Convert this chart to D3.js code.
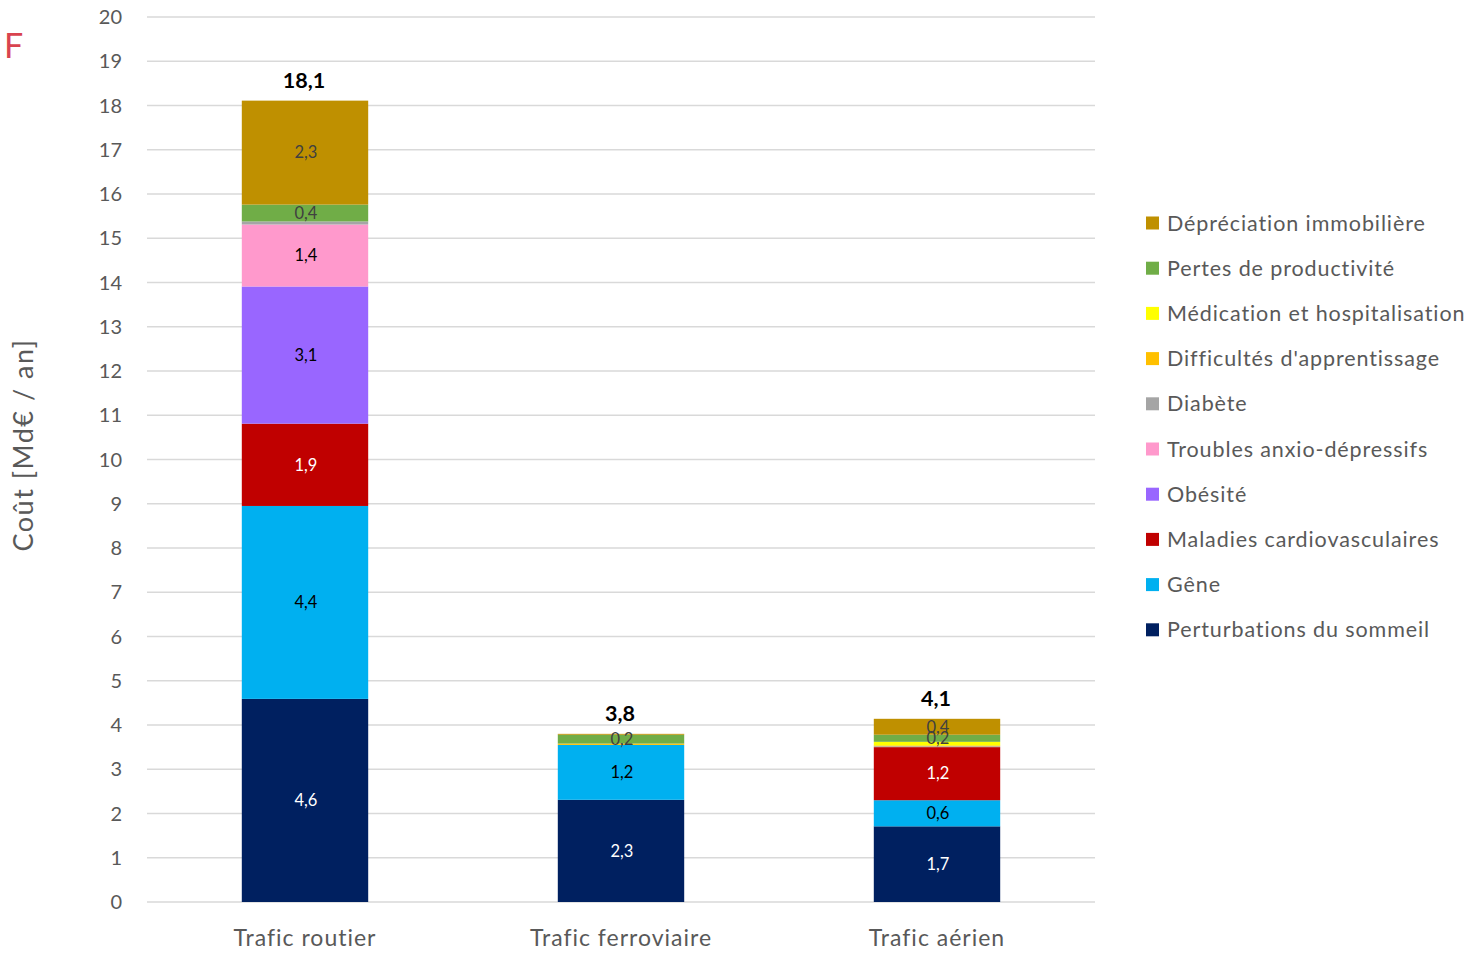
<!DOCTYPE html>
<html><head><meta charset="utf-8">
<script src="https://cdn.jsdelivr.net/npm/d3@7"></script>
<style>body{margin:0;background:#fff;} text{font-family:Lato,"Open Sans",sans-serif;}</style>
</head><body>
<svg id="c" width="1478" height="954"></svg>
<script>
const categories = ["Trafic routier", "Trafic ferroviaire", "Trafic aérien"];
const seriesNames = ["Perturbations du sommeil","Gêne","Maladies cardiovasculaires","Obésité","Troubles anxio-dépressifs","Diabète","Difficultés d'apprentissage","Médication et hospitalisation","Pertes de productivité","Dépréciation immobilière"];
const seriesColors = ["#002060","#00B0F0","#C00000","#9966FF","#FF99CC","#A5A5A5","#FFC000","#FFFF00","#70AD47","#BF9000"];
const labelColors = ["#ffffff","#000000","#ffffff","#000000","#000000","#404040","#404040","#404040","#404040","#404040"];
// values per series: [routier, ferroviaire, aérien]
const sommeil = [4.59, 2.31, 1.71];
const gene = [4.36, 1.24, 0.59];
const cardio = [1.86, 0, 1.2];
const obesite = [3.10, 0, 0];
const troubles = [1.40, 0, 0];
const diabete = [0.07, 0, 0.02];
const apprentissage = [0, 0.03, 0.02];
const medication = [0, 0, 0.08];
const pertes = [0.38, 0.2, 0.16];
const depreciation = [2.35, 0.02, 0.36];
const seriesValues = [sommeil, gene, cardio, obesite, troubles, diabete, apprentissage, medication, pertes, depreciation];
const yTicks = d3.range(0, 21, 1);

const svg = d3.select("#c");
const x = d3.scaleBand().domain(categories).range([147, 1095]).paddingInner(0.6).paddingOuter(0.3);
const y = d3.scaleLinear().domain([0, 20]).range([902, 17]);
const fmt = v => d3.format(".1f")(v).replace(".", ",");

// gridlines
svg.append("g").selectAll("line").data(yTicks).join("line")
  .attr("x1", 147).attr("x2", 1095)
  .attr("y1", d => y(d)).attr("y2", d => y(d))
  .attr("stroke", "#d9d9d9").attr("stroke-width", 1.3);

// y tick labels
svg.append("g").selectAll("text").data(yTicks).join("text")
  .attr("x", 122).attr("y", d => y(d)).attr("dy", "0.35em")
  .attr("text-anchor", "end").attr("font-size", 20).attr("fill", "#595959")
  .text(d => d);

// stacks
const stackData = categories.map((c, i) => {
  const o = {cat: c};
  seriesNames.forEach((s, j) => o[s] = seriesValues[j][i]);
  return o;
});
const stacked = d3.stack().keys(seriesNames)(stackData);
const gBars = svg.append("g");
stacked.forEach((layer, j) => {
  gBars.append("g").attr("fill", seriesColors[j]).selectAll("rect").data(layer.filter(d => d[1] - d[0] > 0)).join("rect")
    .attr("x", d => x(d.data.cat)).attr("width", x.bandwidth())
    .attr("y", d => y(d[1])).attr("height", d => y(d[0]) - y(d[1]));
});
stacked.forEach((layer, j) => {
  svg.append("g").selectAll("text").data(layer.filter(d => d[1] - d[0] >= 0.15)).join("text")
    .attr("x", d => x(d.data.cat) + x.bandwidth() / 2 + 1)
    .attr("y", d => y((d[0] + d[1]) / 2)).attr("dy", "0.35em")
    .attr("text-anchor", "middle").attr("font-size", 16.5).attr("fill", labelColors[j])
    .text(d => fmt(d[1] - d[0]));
});
// totals
const totals = categories.map((c, i) => d3.sum(seriesValues, s => s[i]));
svg.append("g").selectAll("text").data(categories).join("text")
  .attr("x", d => x(d) + x.bandwidth() / 2 - 1)
  .attr("y", (d, i) => y(totals[i]) - 13)
  .attr("text-anchor", "middle").attr("font-size", 21.5).attr("font-weight", "bold").attr("fill", "#000")
  .text((d, i) => fmt(totals[i]));

// x labels
svg.append("g").selectAll("text").data(categories).join("text")
  .attr("x", d => x(d) + x.bandwidth() / 2)
  .attr("y", 946)
  .attr("text-anchor", "middle").attr("font-size", 23).attr("letter-spacing", 1).attr("fill", "#595959")
  .text(d => d);

// y title
svg.append("text").attr("transform", "translate(33,445) rotate(-90)")
  .attr("text-anchor", "middle").attr("font-size", 27).attr("letter-spacing", 1.5).attr("fill", "#595959")
  .text("Coût [Md€ / an]");

// F
svg.append("text").attr("x", 4).attr("y", 58).attr("font-size", 34).attr("fill", "#d9434f").text("F");

// legend
const legendOrder = seriesNames.map((s, j) => j).reverse();
const lg = svg.append("g");
legendOrder.forEach((j, k) => {
  const cy = 223 + k * 45.2;
  lg.append("rect").attr("x", 1146).attr("y", cy - 6.5).attr("width", 13).attr("height", 13).attr("fill", seriesColors[j]);
  lg.append("text").attr("x", 1167).attr("y", cy).attr("dy", "0.35em").attr("font-size", 21.5).attr("letter-spacing", 0.9).attr("fill", "#595959").text(seriesNames[j]);
});
</script>
</body></html>
